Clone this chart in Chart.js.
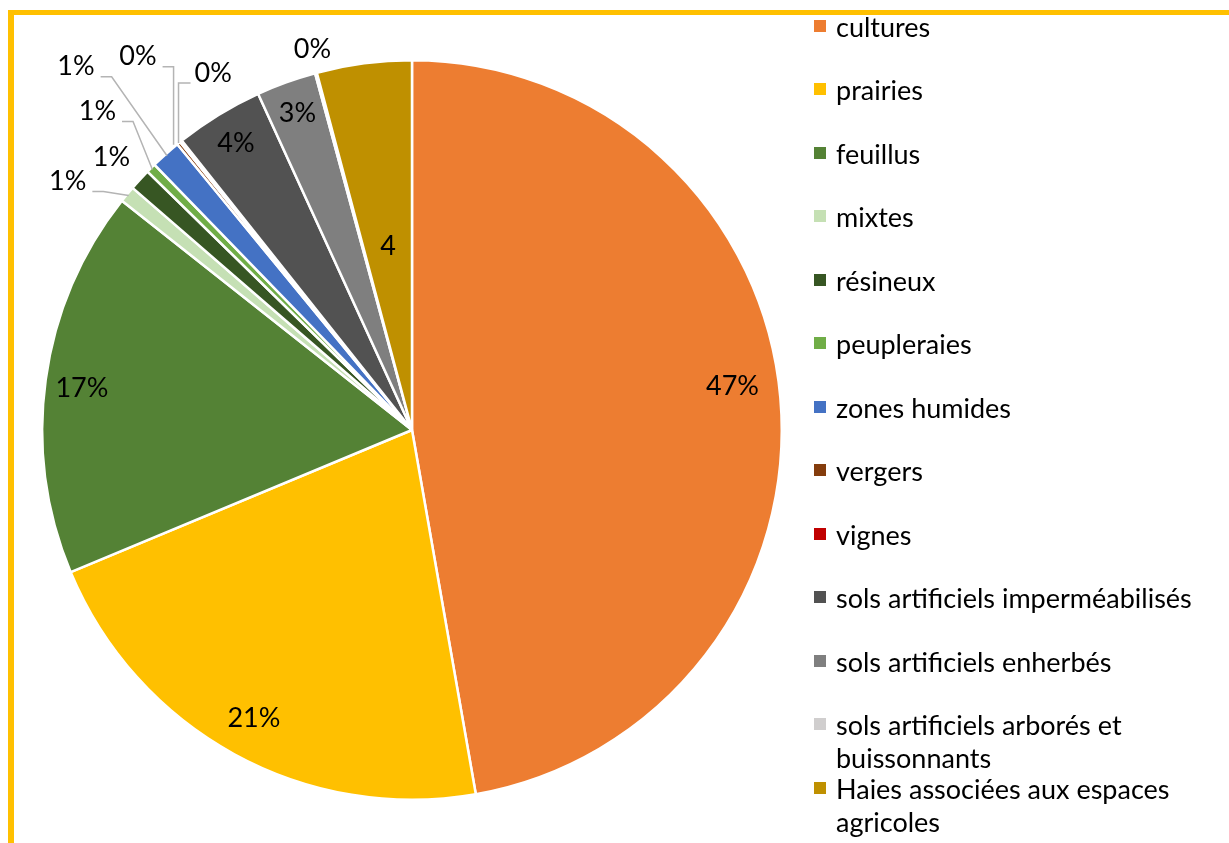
<!DOCTYPE html>
<html>
<head>
<meta charset="utf-8">
<script src="https://cdn.jsdelivr.net/npm/chart.js@4/dist/chart.umd.min.js"></script>
<style>
  html, body { margin: 0; padding: 0; background: #fff; overflow: hidden; }
  body { width: 1229px; height: 843px; position: relative; font-family: Lato, "Open Sans", sans-serif; }
  #frame { position: absolute; left: 8px; top: 10px; width: 1400px; height: 1000px;
           border-top: 5px solid #FFC000; border-left: 6px solid #FFC000; }
  #chart { position: absolute; left: 0; top: 0; }
  .item { position: absolute; left: 814px; width: 410px; font-size: 27px; line-height: 33px; color: #000; }
  .item .box { position: absolute; left: 0; top: 10px; width: 12px; height: 12px; }
  .item .txt { margin-left: 22px; width: 385px; }
</style>
</head>
<body>
<div id="frame"></div>
<canvas id="chart" width="1229" height="843"></canvas>
<div id="legend"></div>
<script>
// Categories, in the order the pie is drawn (clockwise from 12 o'clock)
const categories = [
  'cultures', 'prairies', 'feuillus', 'mixtes', 'résineux', 'peupleraies',
  'zones humides', 'vergers', 'vignes', 'sols artificiels imperméabilisés',
  'sols artificiels enherbés', 'sols artificiels arborés et buissonnants',
  'Haies associées aux espaces agricoles'
];

// Shares in percent
const shares = [47.22, 21.47, 16.92, 0.72, 0.95, 0.42, 1.32, 0.15, 0.10, 3.86, 2.61, 0.08, 4.14];

// Data label texts as printed on the chart
const dataLabels = ['47%', '21%', '17%', '1%', '1%', '1%', '1%', '0%', '0%', '4%', '3%', '0%', '4'];

const colors = [
  '#ED7D31', '#FFC000', '#548235', '#C5E0B4', '#375623', '#70AD47',
  '#4472C4', '#843C0C', '#C00000', '#525252', '#7F7F7F', '#D0CECE', '#BF9000'
];

// Where each data label goes: inside at a fraction of the radius,
// or outside, offset from the slice's outer edge, with an optional leader line
const labelPlacement = [
  { r: 0.875, turn: -0.05 },
  { r: 0.89 },
  { r: 0.90, turn: -0.01 },
  { dx: -61, dy: -14, leader: 'right' },
  { dx: -30, dy: -24 },
  { dx: -55, dy: -58, leader: 'right' },
  { dx: -91, dy: -89, leader: 'right' },
  { dx: -42, dy: -88, leader: 'right', vertical: true },
  { dx: 31, dy: -70, leader: 'left', vertical: true },
  { r: 0.91 },
  { r: 0.91 },
  { dx: -4, dy: -26 },
  { r: 0.50 }
];

const labelFont = '27px Lato, "Open Sans", sans-serif';

const pieLabels = {
  id: 'pieLabels',
  afterDatasetsDraw(chart) {
    const ctx = chart.ctx;
    const arcs = chart.getDatasetMeta(0).data;
    ctx.save();
    ctx.font = labelFont;
    ctx.textAlign = 'center';
    ctx.textBaseline = 'middle';
    arcs.forEach((arc, i) => {
      const { x, y, startAngle, endAngle, outerRadius } = arc.getProps(['x', 'y', 'startAngle', 'endAngle', 'outerRadius'], true);
      const p = labelPlacement[i];
      let mid = (startAngle + endAngle) / 2;
      if (p.r !== undefined) {
        mid += p.turn || 0;
        const lx = x + Math.cos(mid) * outerRadius * p.r;
        const ly = y + Math.sin(mid) * outerRadius * p.r;
        ctx.fillStyle = '#000';
        ctx.fillText(dataLabels[i], lx, ly);
        return;
      }
      const ex = x + Math.cos(mid) * (outerRadius - 2);
      const ey = y + Math.sin(mid) * (outerRadius - 2);
      const lx = ex + p.dx;
      const ly = ey + p.dy;
      if (p.leader) {
        const w = ctx.measureText(dataLabels[i]).width;
        const sy = ly + 10;
        const sx = p.leader === 'right' ? lx + w / 2 + 6 : lx - w / 2 - 4;
        const kx = p.leader === 'right' ? sx + 11 : sx - 12;
        ctx.strokeStyle = '#B4B4B4';
        ctx.lineWidth = 1.5;
        ctx.beginPath();
        ctx.moveTo(sx, sy);
        ctx.lineTo(kx, sy);
        ctx.lineTo(p.vertical ? kx : ex, ey);
        ctx.stroke();
      }
      ctx.fillStyle = '#000';
      ctx.fillText(dataLabels[i], lx, ly);
    });
    ctx.restore();
  }
};

new Chart(document.getElementById('chart'), {
  type: 'pie',
  data: {
    labels: categories,
    datasets: [{
      data: shares,
      backgroundColor: colors,
      borderColor: '#fff',
      borderWidth: 2.5
    }]
  },
  options: {
    responsive: false,
    animation: false,
    layout: { padding: { left: 41, top: 59, right: 446, bottom: 42 } },
    plugins: {
      legend: { display: false },
      tooltip: { enabled: false }
    }
  },
  plugins: [pieLabels]
});

// Legend, one slot per category; wrapped names run down into the next slot
const legend = document.getElementById('legend');
categories.forEach((name, i) => {
  const item = document.createElement('div');
  item.className = 'item';
  item.style.top = (26 + i * 63.5 - 16.5) + 'px';
  item.innerHTML = '<span class="box" style="background:' + colors[i] + '"></span><div class="txt">' + name + '</div>';
  legend.appendChild(item);
});
</script>
</body>
</html>
